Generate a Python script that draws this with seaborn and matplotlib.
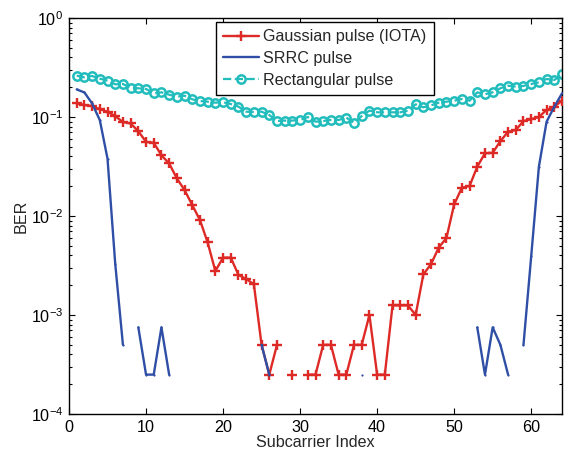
import numpy as np
import pandas as pd
import matplotlib
matplotlib.use("Agg")
import matplotlib.pyplot as plt
from matplotlib.lines import Line2D
from matplotlib.ticker import LogLocator, NullFormatter, FixedLocator
import seaborn as sns

nan = np.nan

subcarrier = list(range(1, 65))

# BER per subcarrier; nan = no errors counted (gap on the log axis)
ber_gaussian = [
    0.137, 0.132, 0.129, 0.120, 0.113, 0.102, 0.089, 0.086, 0.072, 0.056,
    0.055, 0.041, 0.034, 0.024, 0.0183, 0.0129, 0.0091, 0.0054, 0.00278, 0.0038,
    0.0038, 0.00254, 0.00231, 0.00204, 5e-4, 2.5e-4, 5e-4, nan, 2.5e-4, nan,
    2.5e-4, 2.5e-4, 5e-4, 5e-4, 2.5e-4, 2.5e-4, 5e-4, 5e-4, 1.0e-3, 2.5e-4,
    2.5e-4, 1.25e-3, 1.25e-3, 1.25e-3, 1.0e-3, 0.00257, 0.00327, 0.0048, 0.006, 0.0131,
    0.0193, 0.0201, 0.0315, 0.043, 0.0435, 0.057, 0.071, 0.074, 0.091, 0.095,
    0.100, 0.118, 0.127, 0.146,
]

ber_srrc = [
    0.190, 0.177, 0.137, 0.093, 0.038, 0.0033, 5e-4, nan, 7.5e-4, 2.5e-4,
    2.5e-4, 7.5e-4, 2.5e-4, nan, nan, nan, nan, nan, nan, nan,
    nan, nan, nan, nan, 5e-4, 2.5e-4, nan, nan, nan, nan,
    nan, nan, nan, nan, nan, nan, nan, 2.5e-4, nan, nan,
    nan, nan, nan, nan, nan, nan, nan, nan, nan, nan,
    nan, nan, 7.5e-4, 2.5e-4, 7.5e-4, 5e-4, 2.5e-4, nan, 5e-4, 0.0039,
    0.0315, 0.0897, 0.127, 0.173,
]

ber_rect = [
    0.2616, 0.2516, 0.2596, 0.2439, 0.2328, 0.2138, 0.2155, 0.198, 0.195, 0.192,
    0.1734, 0.1775, 0.168, 0.1604, 0.1642, 0.1509, 0.145, 0.1428, 0.1396, 0.141,
    0.1353, 0.1272, 0.1132, 0.112, 0.1132, 0.1047, 0.0911, 0.092, 0.092, 0.0933,
    0.100, 0.0897, 0.0911, 0.0933, 0.0933, 0.0985, 0.0877, 0.1023, 0.116, 0.1115,
    0.1115, 0.1115, 0.1115, 0.116, 0.1343, 0.1253, 0.131, 0.1396, 0.1428, 0.146,
    0.152, 0.146, 0.1775, 0.1695, 0.1775, 0.195, 0.207, 0.2025, 0.206, 0.2155,
    0.224, 0.242, 0.2365, 0.270,
]

series_labels = ["Gaussian pulse (IOTA)", "SRRC pulse", "Rectangular pulse"]
x_ticks = [0, 10, 20, 30, 40, 50, 60]

RED = "#dd2a26"
BLUE = "#2f4fa6"
CYAN = "#22bcbc"
FS = 11.6


def segmented(x, y):
    """Long table with a run id so that missing values break the line."""
    df = pd.DataFrame({"x": x, "y": y})
    missing = df["y"].isna()
    df["run"] = missing.cumsum()
    return df[~missing]


sns.set_theme(style="ticks")
plt.rcParams["font.family"] = ["Liberation Sans", "DejaVu Sans"]
plt.rcParams["mathtext.fontset"] = "custom"
plt.rcParams["mathtext.rm"] = "Liberation Sans"
plt.rcParams["mathtext.it"] = "Liberation Sans"

fig = plt.figure(figsize=(5.7, 4.55), dpi=100)
ax = fig.add_axes([69 / 570, 1 - 414 / 455, (562 - 69) / 570, (414 - 18) / 455])
ax.set_yscale("log")

sns.lineplot(data=segmented(subcarrier, ber_rect), x="x", y="y", units="run",
             estimator=None, ax=ax, color=CYAN, lw=1.6, linestyle="--",
             marker="o", markersize=6.0, markerfacecolor="none",
             markeredgecolor=CYAN, markeredgewidth=1.8, zorder=2)
sns.lineplot(data=segmented(subcarrier, ber_gaussian), x="x", y="y", units="run",
             estimator=None, ax=ax, color=RED, lw=1.7,
             marker="+", markersize=6.5, markeredgecolor=RED, markeredgewidth=1.7,
             zorder=3)
sns.lineplot(data=segmented(subcarrier, ber_srrc), x="x", y="y", units="run",
             estimator=None, ax=ax, color=BLUE, lw=1.7,
             marker="o", markersize=1.6, markeredgewidth=0, markerfacecolor=BLUE,
             zorder=4)

ax.set_xlim(0, 64)
ax.set_ylim(1e-4, 1)
ax.xaxis.set_major_locator(FixedLocator(x_ticks))
ax.yaxis.set_major_locator(LogLocator(base=10, numticks=10))
ax.yaxis.set_minor_locator(LogLocator(base=10, subs=np.arange(2, 10), numticks=10))
ax.yaxis.set_minor_formatter(NullFormatter())

ax.tick_params(which="both", direction="in", top=True, right=True,
               labelsize=FS, colors="black", width=0.8)
ax.tick_params(which="major", length=4.5, pad=4)
ax.tick_params(which="minor", length=2.5)
for sp in ax.spines.values():
    sp.set_color("black")
    sp.set_linewidth(1.0)

ax.set_xlabel("Subcarrier Index", fontsize=FS, labelpad=0)
ax.set_ylabel("BER", fontsize=FS, labelpad=2)

handles = [
    Line2D([], [], color=RED, lw=1.7, marker="+", markersize=6.5, markeredgewidth=1.7),
    Line2D([], [], color=BLUE, lw=1.7),
    Line2D([], [], color=CYAN, lw=1.6, linestyle="--", marker="o", markersize=6.0,
           markerfacecolor="none", markeredgewidth=1.8),
]
leg = ax.legend(handles, series_labels, loc="upper center",
                bbox_to_anchor=(0.519, 0.99), fontsize=FS, frameon=True,
                fancybox=False, framealpha=1, edgecolor="black",
                handlelength=2.2, handletextpad=0.3, borderpad=0.45,
                labelspacing=0.42, borderaxespad=0)
leg.get_frame().set_linewidth(1.0)

fig.savefig("out.png", dpi=100)
